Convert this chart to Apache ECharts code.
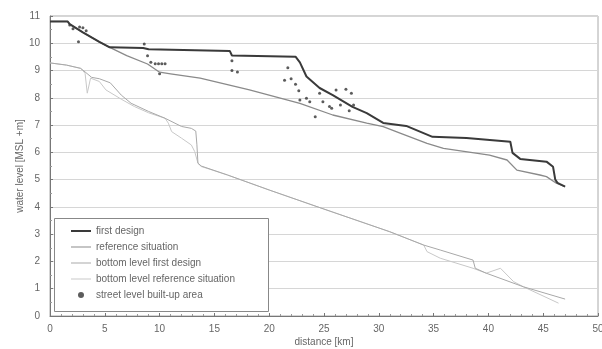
<!DOCTYPE html>
<html>
<head>
<meta charset="utf-8">
<script src="https://cdn.jsdelivr.net/npm/echarts@6/dist/echarts.min.js"></script>
<style>
  html, body { margin: 0; padding: 0; background: #fff; }
  #chart { width: 602px; height: 349px; }
</style>
</head>
<body>
<div id="chart"></div>
<script>
// water levels along the river, [distance km, level MSL +m]
var firstDesign = [[0,10.8],[1.6,10.8],[1.8,10.7],[3,10.4],[4.5,10.05],[5.45,9.85],[8.5,9.83],[9,9.78],[16.4,9.72],[16.6,9.55],[22.4,9.51],[22.8,9.3],[23.4,8.78],[24.6,8.36],[25.8,8.1],[27.6,7.67],[28.9,7.44],[30.4,7.08],[32.5,6.97],[34.9,6.57],[38,6.53],[42,6.39],[42.2,5.98],[42.9,5.76],[45.3,5.66],[45.9,5.47],[46.1,5.0],[46.3,4.88],[47,4.74]];
var referenceSit = [[0,10.8],[1.6,10.8],[1.8,10.7],[3,10.4],[4.5,10.05],[5.45,9.85],[7,9.55],[8.9,9.24],[10,8.94],[11,8.88],[13.7,8.72],[18.2,8.29],[22.8,7.8],[25.8,7.37],[28.9,7.07],[30.4,6.94],[32,6.7],[34.4,6.33],[35.9,6.15],[40.1,5.9],[41.7,5.72],[42.6,5.35],[44.7,5.17],[45.3,5.11],[46.2,4.87],[47,4.74]];
var bottomFirst = [[0,9.28],[1.5,9.2],[2.8,9.08],[3.2,8.95],[3.8,8.75],[4.5,8.7],[5.5,8.55],[6.5,8.1],[7.4,7.8],[9,7.5],[10.5,7.25],[12,6.95],[12.9,6.88],[13.3,6.78],[13.4,6.3],[13.5,5.6],[13.8,5.5],[16.2,5.17],[20,4.62],[25,3.92],[31,3.09],[34.1,2.6],[35.6,2.42],[38.6,2.05],[38.8,1.75],[39.8,1.57],[43.2,1.07],[47,0.62]];
var bottomRef = [[0,9.28],[1.5,9.2],[2.8,9.08],[3.2,8.9],[3.4,8.17],[3.7,8.72],[4.5,8.6],[5.1,8.29],[6.5,7.95],[7.7,7.68],[9,7.45],[10.5,7.25],[10.8,7.07],[11.1,6.76],[12,6.52],[12.9,6.27],[13.2,6.03],[13.5,5.6],[13.8,5.48],[16.2,5.17],[20,4.62],[25,3.92],[31,3.09],[34.1,2.6],[34.4,2.36],[35.6,2.12],[38.6,1.75],[39.8,1.57],[41.1,1.75],[42.3,1.26],[43.2,1.07],[46.4,0.47]];
var streetLevel = [[1.8,10.67],[2.1,10.53],[2.7,10.6],[3.0,10.57],[3.3,10.46],[2.6,10.06],[8.6,9.97],[8.9,9.54],[9.2,9.3],[9.6,9.25],[9.9,9.25],[10.2,9.25],[10.5,9.25],[10.0,8.88],[16.6,9.36],[16.6,9.0],[17.1,8.95],[21.7,9.1],[21.4,8.64],[22.0,8.7],[22.4,8.5],[22.7,8.26],[22.8,7.92],[23.4,7.98],[23.7,7.86],[24.6,8.17],[24.9,7.86],[25.5,7.68],[25.7,7.62],[24.2,7.31],[26.1,8.29],[26.5,7.74],[27.0,8.31],[27.5,8.17],[27.3,7.53],[27.7,7.74]];

var font = 'Liberation Sans, Arial, sans-serif';
var chart = echarts.init(document.getElementById('chart'));

var option = {
  animation: false,
  grid: { left: 50, right: 4, top: 16, bottom: 33, outerBoundsMode: 'none',
    show: true, borderColor: '#aaa', borderWidth: 1 },
  graphic: [
    { type: 'rect', left: 54, top: 218, shape: { width: 214, height: 93 },
      style: { fill: '#fff', stroke: '#888', lineWidth: 1 }, z: 5 }
  ],
  legend: {
    orient: 'vertical', left: 66, top: 221, z: 10,
    itemWidth: 20, itemHeight: 6, itemGap: 6,
    textStyle: { fontFamily: font, fontSize: 10, color: '#666' },
    data: [
      { name: 'first design', icon: 'path://M0,0H20V2H0Z' },
      { name: 'reference situation', icon: 'path://M0,0H20V1H0Z' },
      { name: 'bottom level first design', icon: 'path://M0,0H20V1H0Z' },
      { name: 'bottom level reference situation', icon: 'path://M0,0H20V1H0Z' },
      { name: 'street level built-up area', icon: 'circle' }
    ]
  },
  xAxis: {
    type: 'value', min: 0, max: 50, interval: 5,
    name: 'distance [km]', nameLocation: 'middle', nameGap: 21, nameMoveOverlap: false,
    nameTextStyle: { fontFamily: font, fontSize: 10, color: '#666' },
    axisLine: { lineStyle: { color: '#777' } },
    axisTick: { inside: true, length: 3, lineStyle: { color: '#777' } },
    minorTick: { show: true, splitNumber: 5, length: 2, lineStyle: { color: '#999' } },
    axisLabel: { fontFamily: font, fontSize: 10, color: '#666', margin: 8 },
    splitLine: { show: false }
  },
  yAxis: {
    type: 'value', min: 0, max: 11, interval: 1,
    name: 'water level [MSL +m]', nameLocation: 'middle', nameGap: 25, nameMoveOverlap: false,
    nameTextStyle: { fontFamily: font, fontSize: 10, color: '#666' },
    axisLine: { show: true, lineStyle: { color: '#777' } },
    axisTick: { show: true, inside: true, length: 3, lineStyle: { color: '#777' } },
    minorTick: { show: true, splitNumber: 2, length: 2, lineStyle: { color: '#999' } },
    axisLabel: { fontFamily: font, fontSize: 10, color: '#666', margin: 10 },
    splitLine: { lineStyle: { color: '#d6d6d6' } }
  },
  series: [
    { name: 'bottom level reference situation', type: 'line', data: bottomRef, symbol: 'none',
      lineStyle: { color: '#c8c8c8', width: 1 }, itemStyle: { color: '#c8c8c8' } },
    { name: 'bottom level first design', type: 'line', data: bottomFirst, symbol: 'none',
      lineStyle: { color: '#a8a8a8', width: 1 }, itemStyle: { color: '#a8a8a8' } },
    { name: 'reference situation', type: 'line', data: referenceSit, symbol: 'none',
      lineStyle: { color: '#8a8a8a', width: 1.3 }, itemStyle: { color: '#8a8a8a' } },
    { name: 'first design', type: 'line', data: firstDesign, symbol: 'none',
      lineStyle: { color: '#3a3a3a', width: 2 }, itemStyle: { color: '#3a3a3a' } },
    { name: 'street level built-up area', type: 'scatter', data: streetLevel,
      symbol: 'circle', symbolSize: 3, itemStyle: { color: '#333' } }
  ]
};

chart.setOption(option);
</script>
</body>
</html>
